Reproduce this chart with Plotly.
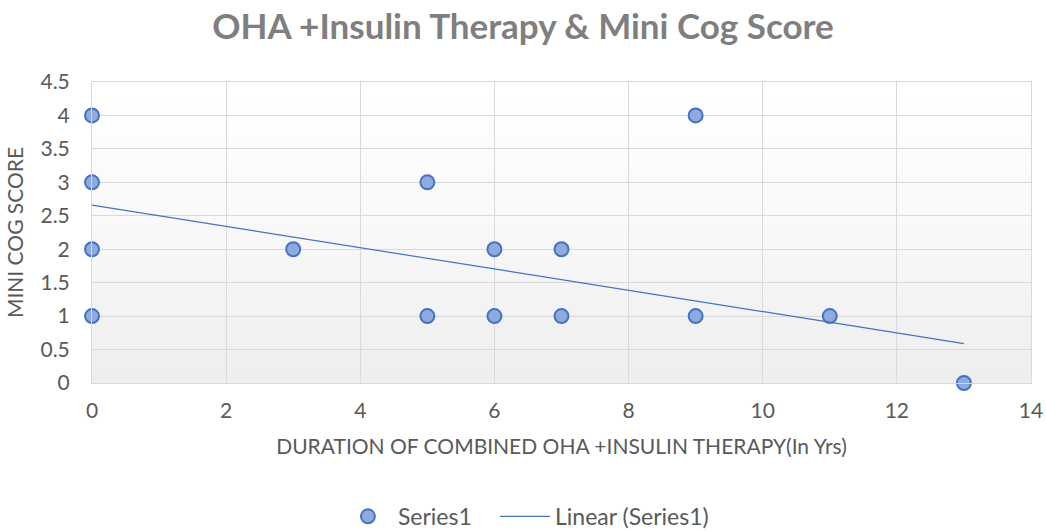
import plotly.graph_objects as go

# Data
duration_yrs = [0, 0, 0, 0, 3, 5, 5, 6, 6, 7, 7, 9, 9, 11, 13]
mini_cog = [4, 3, 2, 1, 2, 3, 1, 2, 1, 2, 1, 4, 1, 1, 0]

# Excel linear trendline (as drawn)
trend_x = [0, 13]
trend_y = [2.66, 0.59]

x_ticks = [0, 2, 4, 6, 8, 10, 12, 14]
y_ticks = [0, 0.5, 1, 1.5, 2, 2.5, 3, 3.5, 4, 4.5]

FONT = "Lato"
TXT = "#595959"
GRID = "#D9D9D9"

fig = go.Figure()

fig.add_trace(go.Scatter(
    x=duration_yrs, y=mini_cog, mode="markers", name="Series1",
    cliponaxis=False, legend="legend",
    marker=dict(size=14, color="#8FAADC", line=dict(color="#4472C4", width=2)),
))
fig.add_trace(go.Scatter(
    x=trend_x, y=trend_y, mode="lines", name="Linear (Series1)", legend="legend2",
    line=dict(color="#4472C4", width=1.2),
))

# gradient background of plot area (white top to light gray bottom)
n = 30
for i in range(n):
    t = i / (n - 1)
    v = int(round(255 - (255 - 238) * (1 - t) ** 1.2))
    col = f"rgb({v},{v},{v})"
    fig.add_shape(type="rect", xref="x domain", yref="y domain",
                  x0=0, x1=1, y0=i / n, y1=(i + 1) / n,
                  fillcolor=col, line=dict(width=0), layer="below")

leg_common = dict(orientation="h", y=-0.443, yanchor="middle", xanchor="left",
                  bgcolor="rgba(0,0,0,0)",
                  font=dict(family=FONT, size=23, color=TXT), itemwidth=50)

fig.update_layout(
    width=1046, height=531,
    margin=dict(l=92, r=15, t=82, b=148, autoexpand=False),
    paper_bgcolor="white", plot_bgcolor="white",
    font=dict(family=FONT, color=TXT, size=21),
    title=dict(text="<b>OHA +Insulin Therapy & Mini Cog Score</b>",
               x=0.5, xanchor="center", y=0.949, yanchor="middle",
               font=dict(family=FONT, size=35, color="#7F7F7F")),
    legend=dict(x=0.2619, **leg_common),
    legend2=dict(x=0.4292, **leg_common),
    showlegend=True,
)
fig.update_xaxes(
    range=[0, 14], tickvals=x_ticks, ticktext=[str(v) for v in x_ticks],
    showgrid=True, gridcolor=GRID, gridwidth=1, zeroline=False,
    showline=True, linecolor=GRID, linewidth=1, mirror=True, automargin=False,
    tickfont=dict(family=FONT, size=21, color=TXT), ticklabelstandoff=9,
    ticklabeloverflow="allow",
    title=dict(text="DURATION OF COMBINED OHA +INSULIN THERAPY(In Yrs)",
               font=dict(family=FONT, size=21, color=TXT), standoff=18),
)
fig.update_yaxes(
    range=[0, 4.5], tickvals=y_ticks, ticktext=[f"{v:g}" for v in y_ticks],
    showgrid=True, gridcolor=GRID, gridwidth=1, zeroline=False,
    showline=True, linecolor=GRID, linewidth=1, mirror=True, automargin=False,
    tickfont=dict(family=FONT, size=21, color=TXT), ticklabelstandoff=17,
    title=dict(text="MINI COG SCORE", font=dict(family=FONT, size=21, color=TXT), standoff=11),
)

# remove the browser's default 8px body margin so the figure fills the window exactly
fig.write_html("out.html", config={"displayModeBar": False},
               post_script="document.body.style.margin='0';document.body.style.overflow='hidden';")
